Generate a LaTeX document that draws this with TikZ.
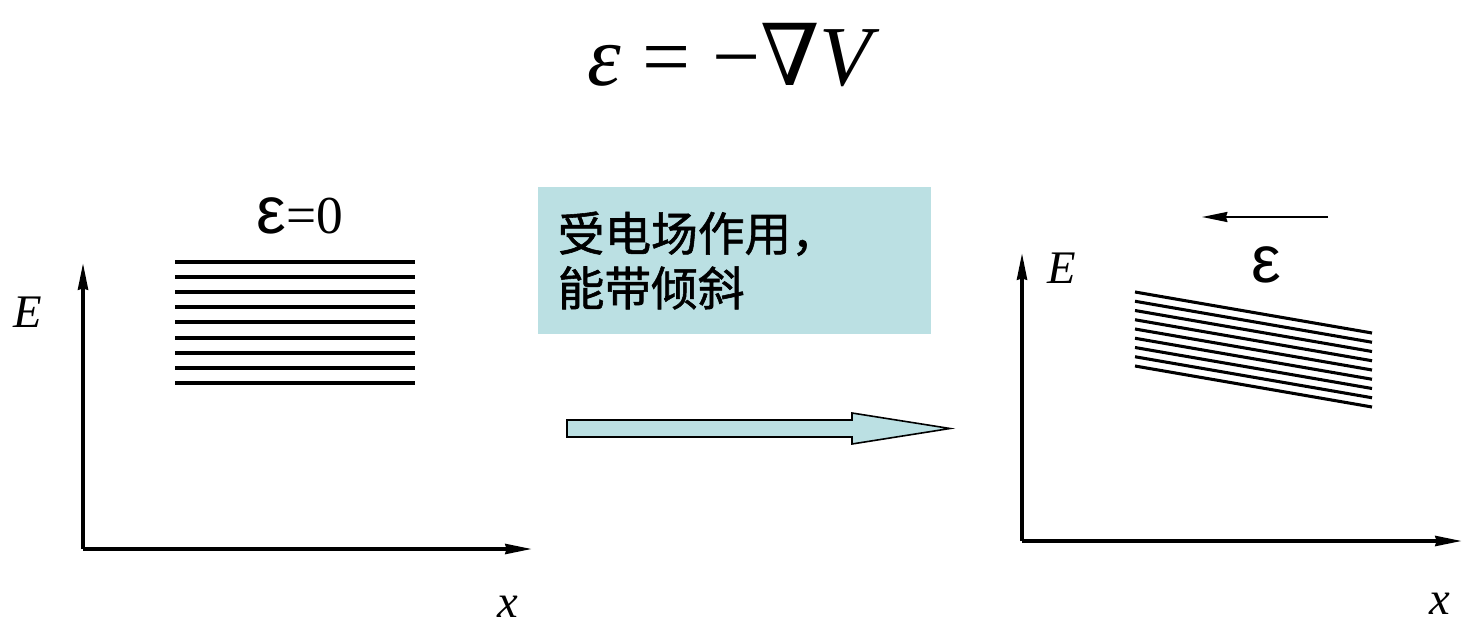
\documentclass[tikz,border=0pt]{standalone}
\usepackage{fontspec}
\setmainfont{Liberation Serif}[
  ItalicFont=Liberation Serif Italic,
  BoldFont=Liberation Serif Bold]
\setsansfont{Liberation Sans}
\newfontfamily\cjk{Noto Sans CJK SC}[FakeBold=1.2]
\newfontfamily\opfont{DejaVu Serif}
\usetikzlibrary{
  arrows.meta,
  positioning,
}
\definecolor{fieldbg}{RGB}{187,224,227}
\tikzset{
  axisline/.style={line width=2.6pt, -{Stealth[length=20pt, width=7.5pt, inset=1pt]}},
  levelline/.style={line width=3pt},
  tiltline/.style={line width=2.3pt},
  fieldarrow/.style={line width=1.6pt, -{Stealth[length=19pt, width=7.5pt, inset=1pt]}},
  axislabel/.style={font=\fontsize{35}{35}\selectfont\itshape, inner sep=0pt},
  epslabel/.style={inner sep=0pt, font=\fontsize{40}{40}\selectfont},
  fieldbox/.style={
    rectangle, fill=fieldbg, minimum width=295pt, minimum height=110pt,
    text width=265pt, align=left, inner xsep=15pt,
    font=\cjk\fontsize{35}{41}\selectfont
  },
  bigarrow/.style={fill=fieldbg, draw=black, line width=1.2pt},
}
\newcommand{\epsfield}{{\sffamily\fontsize{50}{50}\selectfont ε}}

\begin{document}
\begin{tikzpicture}[x=0.75pt, y=-0.75pt]
  \useasboundingbox (0,0) rectangle (1463,627);

  % ── Title ──
  \node[font=\fontsize{64}{66}\selectfont] (title) at (734,55)
    {\textit{ε} = −{\opfont ∇}\textit{V}};

  % ── Left panel: no field ──
  \coordinate (oL) at (83,549);
  \coordinate (yL) at (83,263);
  \coordinate (xL) at (532,549);
  \draw[axisline] (oL) -- (yL);
  \draw[axisline] (oL) -- (xL);
  \node[axislabel] (EL) at (28,312) {E};
  \node[axislabel] (xlabL) at (508,607) {x};
  \node[epslabel] (epsL) at (300,216) {\epsfield=0};
  \foreach \i in {0,...,8}
    \draw[levelline] (175,{262+15.1*\i}) -- (415,{262+15.1*\i});

  % ── Middle: caption and transition arrow ──
  \node[fieldbox] (note) at (734.5,260.5) {受电场作用，\\能带倾斜};
  \draw[bigarrow] (567,420) -- (852,420) -- (852,413) -- (950,428.5)
    -- (852,444) -- (852,437) -- (567,437) -- cycle;

  % ── Right panel: tilted bands ──
  \coordinate (oR) at (1022,541);
  \coordinate (yR) at (1022,253);
  \coordinate (xR) at (1462,541);
  \draw[axisline] (oR) -- (yR);
  \draw[axisline] (oR) -- (xR);
  \node[axislabel] (ER) at (1062,268) {E};
  \node[axislabel] (xlabR) at (1440,604) {x};
  \coordinate (fieldR) at (1328,217);
  \coordinate (fieldL) at (1202,217);
  \draw[fieldarrow] (fieldR) -- (fieldL);
  \node[epslabel] (epsR) at (1266,265) {\epsfield};
  \foreach \i in {0,...,8}
    \draw[tiltline] (1135,{292+9.25*\i}) -- (1372,{333+9.25*\i});

\end{tikzpicture}
\end{document}
